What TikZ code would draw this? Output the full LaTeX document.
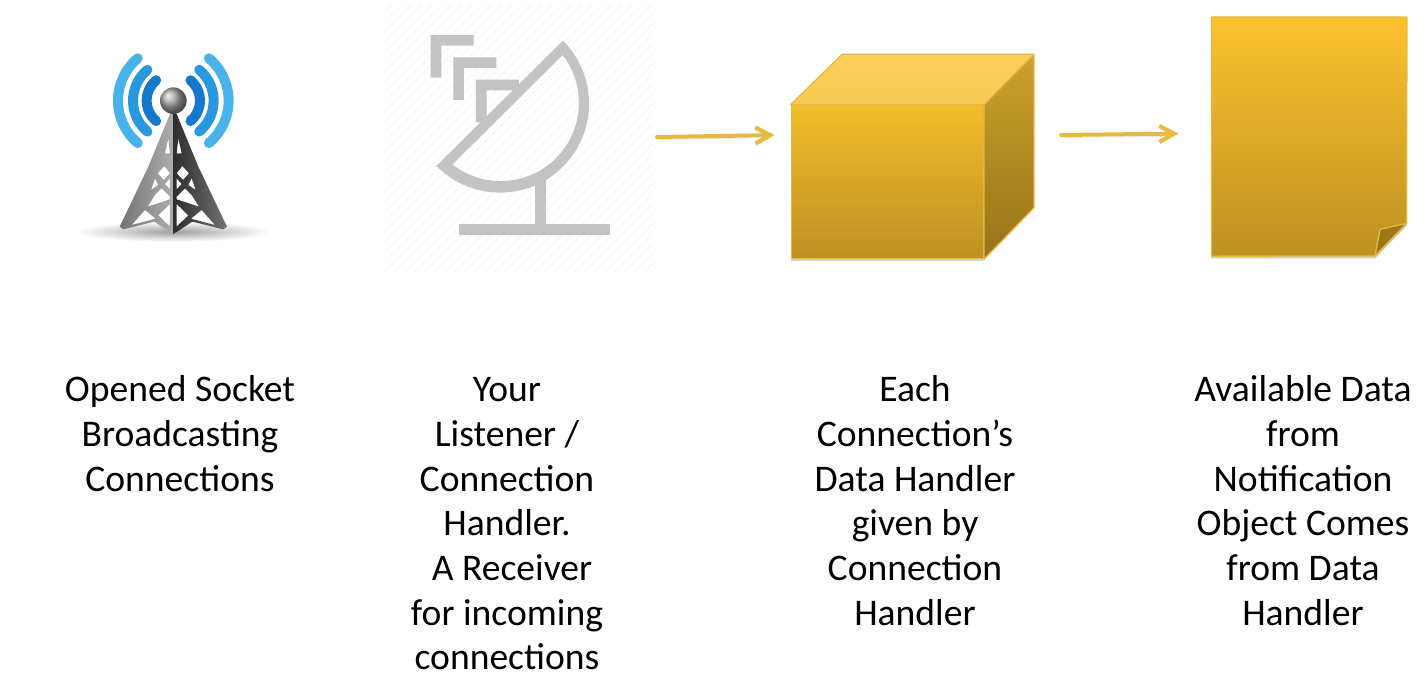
\documentclass[tikz,border=0pt]{standalone}
\usepackage{fontspec}
\setmainfont{Carlito}
\usetikzlibrary{arrows.meta,shadows,calc}
\definecolor{goldline}{HTML}{E6B941}
\definecolor{dishgray}{HTML}{C3C3C3}
\tikzset{
  labeltext/.style={anchor=north,align=center,inner sep=0pt,text=black,font=\fontsize{37.6}{44.67}\selectfont,execute at begin node=\strut},
  flowarrow/.style={-{Straight Barb[length=15pt,width=16pt]},line width=4pt,color=goldline,line cap=round,
    preaction={draw=black,opacity=0.15,transform canvas={yshift=-2.5pt}}},
  goldface/.style={draw=goldline,line width=1.3pt,line join=round},
  softshadow/.style={drop shadow={shadow xshift=0pt,shadow yshift=-2.5pt,opacity=0.18,fill=black}},
}
\newcommand{\towerhalf}[2]{
\shade[even odd rule,left color=#1,right color=#2] (165,12) -- (175,12) -- (175,372) -- (118,335) -- (25,358) -- (14,350) -- (100,170) -- cycle
  (160,85) -- (165,130) -- (150,130) -- cycle
  (148,168) -- (165,190) -- (146,210) -- (128,190) -- cycle
  (165,205) -- (165,238) -- (150,222) -- cycle
  (120,205) -- (130,225) -- (108,240) -- cycle
  (140,235) -- (165,260) -- (165,268) -- (98,290) -- (120,255) -- cycle
  (90,300) -- (122,326) -- (50,345) -- cycle
  (165,282) -- (165,350) -- (130,316) -- cycle;
}
\begin{document}
\begin{tikzpicture}[x=1pt,y=-1pt]
\useasboundingbox (0,0) rectangle (1428,689);
\fill[white] (0,0) rectangle (1428,689);
% tower
\begin{scope}[shift={(60,30)},scale=0.3333]
\shade[inner color=black!38,outer color=white] (340,605) ellipse (295 and 30);
\foreach \r/\c in {80/1478CC,121/2A98DE,166/48B2EA} {
  \definecolor{wavecolor}{HTML}{\c}
  \draw[line width=10pt,line cap=round,color=wavecolor] ({340+\r*cos(50)},{212-\r*sin(50)}) arc[start angle=-50,end angle=50,radius=\r];
  \draw[line width=10pt,line cap=round,color=wavecolor] ({340-\r*cos(50)},{212-\r*sin(50)}) arc[start angle=230,end angle=130,radius=\r];
}
\end{scope}
\begin{scope}[shift={(115,110)},scale=0.3333]
\towerhalf{black!55}{black!32}
\begin{scope}[shift={(350,0)},xscale=-1]
\towerhalf{black!82}{black!55}
\end{scope}
\end{scope}
\begin{scope}[shift={(60,30)},scale=0.3333]
\shade[ball color=black!35] (340,212) circle (40);
\end{scope}
% dish
\begin{scope}[shift={(380,0)},scale=0.3333]
\begin{scope}
\clip (15,15) rectangle (820,815);
\foreach \i in {-800,-770,...,800} \draw[color=black!4,line width=0.8pt] (\i,820) -- ({\i+805},15);
\end{scope}
\fill[dishgray,even odd rule] (553,118) -- (549,122) arc[start angle=-45,end angle=135,radius=267] -- (165,502) -- cycle
  (548,165) arc[start angle=-37.6,end angle=128,radius=235] -- cycle;
\foreach \s in {0,1,2} \fill[dishgray,shift={({68*\s},{67*\s})}] (152,105) -- (281,105) -- (281,137) -- (184,137) -- (184,233) -- (152,233) -- cycle;
\fill[dishgray] (466,530) rectangle (498,680);
\fill[dishgray] (237,672) rectangle (690,704);
\end{scope}
% box
\node (box) at (887.3,182) [minimum width=192pt,minimum height=153.4pt,inner sep=0pt,goldface,softshadow,top color={rgb,255:red,243;green,189;blue,43},bottom color={rgb,255:red,189;green,144;blue,34}] {};
\shade[goldface,top color={rgb,255:red,252;green,207;blue,90},bottom color={rgb,255:red,248;green,203;blue,85}] (box.north west) -- (842.3,54.3) -- (1034,54.3) -- (box.north east) -- cycle;
\shade[goldface,shading angle=20,top color={rgb,255:red,203;green,162;blue,44},bottom color={rgb,255:red,152;green,114;blue,24}] (box.north east) -- (1034,54.3) -- (1034,207.7) -- (box.south east) -- cycle;
% page
\node (page) at (1309.2,136.6) [minimum width=195pt,minimum height=238.7pt,inner sep=0pt] {};
\shade[goldface,softshadow,top color={rgb,255:red,253;green,194;blue,46},bottom color={rgb,255:red,189;green,144;blue,32}] (page.north west) -- (page.north east) -- (1406.7,223.3) -- (1375,256) -- (page.south west) -- cycle;
\draw[goldface,fill={rgb,255:red,158;green,118;blue,24}] (1406.7,223.3) -- (1380,229.3) -- (1375,256) -- cycle;
% arrows
\coordinate (boxin) at (657,137);
\coordinate (pagein) at (1061,135);
\draw[flowarrow,shorten >=16pt] (boxin) -- (box.154);
\draw[flowarrow,shorten >=33pt] (pagein) -- (page.178);
% labels
\node (socket) at (180,375.5) [labeltext] {Opened Socket\\Broadcasting\\Connections};
\node (listener) at (507,377.5) [labeltext] {Your\\Listener /\\Connection\\Handler.\\\hspace*{10pt}A Receiver\\for incoming\\connections};
\node (handler) at (915,375.5) [labeltext] {Each\\Connection’s\\Data Handler\\given by\\Connection\\Handler};
\node (notify) at (1303,375.5) [labeltext] {Available Data\\from\\Notification\\Object Comes\\from Data\\Handler};
\end{tikzpicture}
\end{document}
